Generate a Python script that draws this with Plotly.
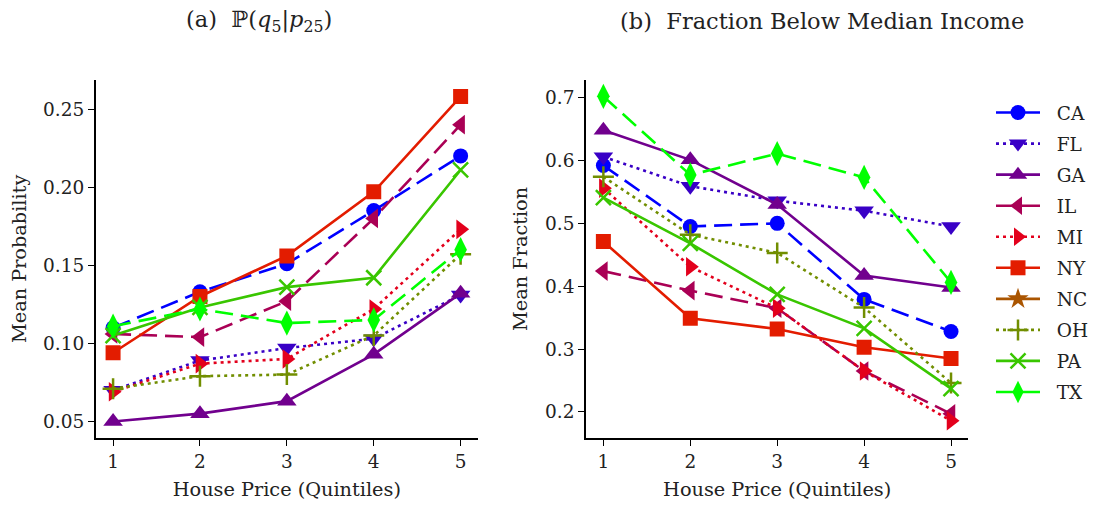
import plotly.graph_objects as go

W, H = 1096, 507
OX, OY = 8, 8  # page body margin offset

quintiles = [1, 2, 3, 4, 5]
states = ["CA", "FL", "GA", "IL", "MI", "NY", "NC", "OH", "PA", "TX"]

# Panel (a): P(q5 | p25)
prob = {
    "CA": [0.110, 0.133, 0.151, 0.185, 0.220],
    "FL": [0.070, 0.089, 0.097, 0.103, 0.131],
    "GA": [0.050, 0.055, 0.063, 0.093, 0.132],
    "IL": [0.106, 0.104, 0.127, 0.180, 0.240],
    "MI": [0.069, 0.087, 0.090, 0.122, 0.173],
    "NY": [0.094, 0.130, 0.156, 0.197, 0.258],
    "NC": [None, None, None, None, None],
    "OH": [0.071, 0.079, 0.080, 0.105, 0.157],
    "PA": [0.105, 0.123, 0.136, 0.142, 0.211],
    "TX": [0.111, 0.122, 0.113, 0.115, 0.160],
}

# Panel (b): fraction below median income
frac = {
    "CA": [0.592, 0.495, 0.500, 0.379, 0.328],
    "FL": [0.606, 0.559, 0.536, 0.520, 0.495],
    "GA": [0.648, 0.601, 0.530, 0.417, 0.398],
    "IL": [0.424, 0.393, 0.365, 0.265, 0.197],
    "MI": [0.556, 0.431, 0.365, 0.265, 0.186],
    "NY": [0.471, 0.349, 0.332, 0.303, 0.285],
    "NC": [None, None, None, None, None],
    "OH": [0.574, 0.482, 0.453, 0.366, 0.246],
    "PA": [0.541, 0.468, 0.387, 0.333, 0.237],
    "TX": [0.702, 0.577, 0.611, 0.573, 0.406],
}

colors = ["#0000ff", "#3900c6", "#71008e", "#aa0055", "#e3001c",
          "#e31c00", "#aa5500", "#718e00", "#39c600", "#00ff00"]
dashes = ["18px,8px", "3px,4px", "solid"] * 4
symbols = ["circle", "triangle-down", "triangle-up", "triangle-left",
           "triangle-right", "square", "star", "cross-thin", "x-thin",
           "diamond-tall"]
sizes = [15, 17, 17, 17, 17, 15, 16, 15, 15, 18]

FONT = "DejaVu Serif"
FS = 18.5
FS_AX = 19.3


def px_x(p):
    return (p - OX) / W


def px_y(p):
    return 1 - (p - OY) / H


fig = go.Figure()

for i, s in enumerate(states):
    thin = symbols[i] in ("cross-thin", "x-thin")
    marker = dict(symbol=symbols[i], size=sizes[i], color=colors[i],
                  line=dict(width=2.5 if thin else 0, color=colors[i]))
    line = dict(color=colors[i], width=2.6, dash=dashes[i])
    fig.add_trace(go.Scatter(x=quintiles, y=prob[s], mode="lines+markers",
                             name="\u00a0\u00a0" + s, legendgroup=s,
                             line=line, marker=marker,
                             xaxis="x", yaxis="y", showlegend=True))
    fig.add_trace(go.Scatter(x=quintiles, y=frac[s], mode="lines+markers",
                             name="\u00a0\u00a0" + s, legendgroup=s,
                             line=line, marker=marker,
                             xaxis="x2", yaxis="y2", showlegend=False))

left_dom = [px_x(95.7), px_x(478)]
right_dom = [px_x(586), px_x(968.4)]
y_dom = [px_y(437.7), px_y(80)]

axis_common = dict(showline=True, linecolor="black", linewidth=1.6,
                   ticks="outside", ticklen=6, tickwidth=1.4, tickcolor="black",
                   showgrid=False, zeroline=False, mirror=False,
                   automargin=False,
                   tickfont=dict(family=FONT, size=FS, color="#222"))

fig.update_layout(
    width=W, height=H,
    margin=dict(l=0, r=0, t=0, b=0),
    paper_bgcolor="white", plot_bgcolor="white",
    font=dict(family=FONT, size=FS, color="#222"),
    xaxis=dict(domain=left_dom, range=[0.8, 5.2], tickvals=quintiles,
               title=dict(text="House Price (Quintiles)", standoff=12,
                          font=dict(family=FONT, size=FS_AX)),
               anchor="y", **axis_common),
    yaxis=dict(domain=y_dom, range=[0.0396, 0.2686],
               tickvals=[0.05, 0.10, 0.15, 0.20, 0.25],
               ticktext=["0.05", "0.10", "0.15", "0.20", "0.25"],
               title=dict(text="Mean Probability", standoff=12,
                          font=dict(family=FONT, size=FS_AX)),
               anchor="x", **axis_common),
    xaxis2=dict(domain=right_dom, range=[0.8, 5.2], tickvals=quintiles,
                title=dict(text="House Price (Quintiles)", standoff=12,
                           font=dict(family=FONT, size=FS_AX)),
                anchor="y2", **axis_common),
    yaxis2=dict(domain=y_dom, range=[0.159, 0.728],
                tickvals=[0.2, 0.3, 0.4, 0.5, 0.6, 0.7],
                ticktext=["0.2", "0.3", "0.4", "0.5", "0.6", "0.7"],
                title=dict(text="Mean Fraction", standoff=12,
                           font=dict(family=FONT, size=FS_AX)),
                anchor="x2", **axis_common),
    legend=dict(x=px_x(991), y=px_y(94), xanchor="left", yanchor="top",
                font=dict(family=FONT, size=FS, color="#222"),
                bgcolor="rgba(0,0,0,0)", borderwidth=0,
                tracegroupgap=4, itemwidth=44, itemsizing="trace"),
    annotations=[
        dict(text="(a)  \u2119(<i>q</i><sub>5</sub>|<i>p</i><sub>25</sub>)",
             x=px_x(259), y=px_y(21),
             xref="paper", yref="paper", showarrow=False,
             xanchor="center", yanchor="middle",
             font=dict(family=FONT, size=22.5, color="#222")),
        dict(text="(b)  Fraction Below Median Income",
             x=px_x(821.5), y=px_y(21),
             xref="paper", yref="paper", showarrow=False,
             xanchor="center", yanchor="middle",
             font=dict(family=FONT, size=22.5, color="#222")),
    ],
)

fig.write_html("out.html")
